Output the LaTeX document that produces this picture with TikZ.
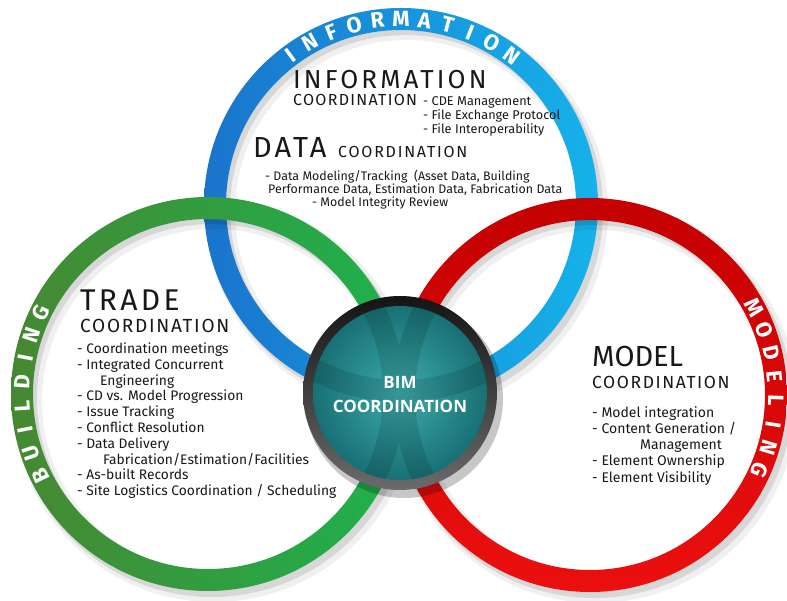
\documentclass[tikz,border=0pt]{standalone}
\usepackage{fontspec}
\setmainfont{Fira Sans}
\newfontfamily\bimfont{Open Sans}
\usetikzlibrary{calc}

\definecolor{infoblue}{RGB}{26,116,204}
\definecolor{infocyan}{RGB}{22,178,234}
\definecolor{buildgreen}{RGB}{70,136,50}
\definecolor{buildlight}{RGB}{30,178,78}
\definecolor{modelred}{RGB}{196,0,0}
\definecolor{modelbright}{RGB}{236,16,16}
\definecolor{bimlight}{RGB}{62,172,172}
\definecolor{bimdark}{RGB}{24,112,116}
\definecolor{inkgray}{RGB}{24,24,24}

\tikzset{
  ringletter/.style={text=white, inner sep=0pt, font=\fontsize{22}{22}\selectfont\bfseries},
  bigtitle/.style={anchor=base west, inner sep=0pt, text=inkgray},
  smalltitle/.style={anchor=base west, inner sep=0pt, text=inkgray},
  itemlist/.style={anchor=base west, align=left, inner sep=0pt, text=inkgray},
  bimtext/.style={align=center, inner sep=0pt, text=white, font=\bimfont\bfseries\fontsize{17}{24}\selectfont}
}

\begin{document}
\begin{tikzpicture}[x=1pt,y=1pt]
% Canvas
\useasboundingbox (0,0) rectangle (787,600);
\fill[white] (0,0) rectangle (787,600);

% Centres
\coordinate (info) at (401,395);
\coordinate (build) at (208,206);
\coordinate (model) at (590,205);
\coordinate (bim) at (400,207);

% Information ring
\fill[black, opacity=.06, even odd rule] ($(info)+(6,-7)$) circle[radius=201] ($(info)+(6,-7)$) circle[radius=172];
\fill[black, opacity=.10, even odd rule] ($(info)+(4,-5)$) circle[radius=198] ($(info)+(4,-5)$) circle[radius=175];
\shade[left color=infoblue, right color=infocyan, even odd rule] (info) circle[radius=197] (info) circle[radius=175];

% Building ring
\fill[black, opacity=.06, even odd rule] ($(build)+(6,-7)$) circle[radius=201] ($(build)+(6,-7)$) circle[radius=172];
\fill[black, opacity=.10, even odd rule] ($(build)+(4,-5)$) circle[radius=198] ($(build)+(4,-5)$) circle[radius=175];
\shade[left color=buildgreen, right color=buildlight, even odd rule] (build) circle[radius=197] (build) circle[radius=175];

% Modeling ring
\fill[black, opacity=.06, even odd rule] ($(model)+(6,-7)$) circle[radius=201] ($(model)+(6,-7)$) circle[radius=172];
\fill[black, opacity=.10, even odd rule] ($(model)+(4,-5)$) circle[radius=198] ($(model)+(4,-5)$) circle[radius=175];
\shade[top color=modelred, bottom color=modelbright, even odd rule] (model) circle[radius=197] (model) circle[radius=175];

% Ring lettering
\foreach \l [count=\i] in {I,N,F,O,R,M,A,T,I,O,N}
  \node[ringletter, rotate={126.5-(\i-1)*7.3-90}] (infoletter\i) at ($(info)+({126.5-(\i-1)*7.3}:186)$) {\l};
\foreach \l [count=\i] in {B,U,I,L,D,I,N,G}
  \node[ringletter, rotate={205.9-(\i-1)*7.4-90}] (buildletter\i) at ($(build)+({205.9-(\i-1)*7.4}:186)$) {\l};
\foreach \l [count=\i] in {M,O,D,E,L,I,N,G}
  \node[ringletter, rotate={27.9-(\i-1)*7.4-90}] (modelletter\i) at ($(model)+({27.9-(\i-1)*7.4}:186)$) {\l};

% Information and data
\node[bigtitle, font=\fontsize{26}{26}\selectfont\addfontfeature{LetterSpace=12}] (infotitle) at (293,511) {INFORMATION};
\node[smalltitle, font=\fontsize{16}{16}\selectfont\addfontfeature{LetterSpace=8}] (infosub) at (293,494) {COORDINATION};
\node[itemlist, font=\fontsize{12.7}{14}\selectfont] (infoitems) at (423,466) {- CDE Management\\- File Exchange Protocol\\- File Interoperability};
\node[bigtitle, font=\fontsize{29}{29}\selectfont\addfontfeature{LetterSpace=11}] (datatitle) at (253,442) {DATA};
\node[smalltitle, font=\fontsize{16}{16}\selectfont\addfontfeature{LetterSpace=11}] (datasub) at (338,442) {COORDINATION};
\node[itemlist, font=\fontsize{12.4}{13}\selectfont] (dataitems) at (265,393) {- Data Modeling/Tracking\ \ (Asset Data, Building\\\hspace*{3pt}Performance Data, Estimation Data, Fabrication Data\\\hspace*{47pt}- Model Integrity Review};

% Trade
\node[bigtitle, font=\fontsize{30}{30}\selectfont\addfontfeature{LetterSpace=11}] (tradetitle) at (80,289) {TRADE};
\node[smalltitle, font=\fontsize{19}{19}\selectfont\addfontfeature{LetterSpace=9}] (tradesub) at (80,267) {COORDINATION};
\node[itemlist, font=\fontsize{13.8}{15.8}\selectfont] (tradeitems) at (77,104.3) {- Coordination meetings\\- Integrated Concurrent\\\hspace*{23pt}Engineering\\- CD vs. Model Progression\\- Issue Tracking\\- Conflict Resolution\\- Data Delivery\\\hspace*{26pt}Fabrication/Estimation/Facilities\\- As-built Records\\- Site Logistics Coordination / Scheduling};

% Model
\node[bigtitle, font=\fontsize{29}{29}\selectfont] (modeltitle) at (592,233) {MODEL};
\node[smalltitle, font=\fontsize{17.5}{17.5}\selectfont\addfontfeature{LetterSpace=9}] (modelsub) at (592,211) {COORDINATION};
\node[itemlist, font=\fontsize{14}{16.3}\selectfont] (modelitems) at (592,117.8) {- Model integration\\- Content Generation /\\\hspace*{48pt}Management\\- Element Ownership\\- Element Visibility};

% BIM lens
\fill[black, opacity=.22] ($(bim)+(4,-6)$) circle[radius=99];
\shade[top color=black!92, bottom color=black!58] (bim) circle[radius=97];
\shade[inner color=bimlight, outer color=bimdark] (bim) circle[radius=87];
\begin{scope}
  \clip (bim) circle[radius=87];
  \draw[black, opacity=.12, line width=22] (info) circle[radius=186] (build) circle[radius=186] (model) circle[radius=186];
\end{scope}
\node[bimtext] (bimlabel) at (400,205) {BIM\\COORDINATION};
\end{tikzpicture}
\end{document}
